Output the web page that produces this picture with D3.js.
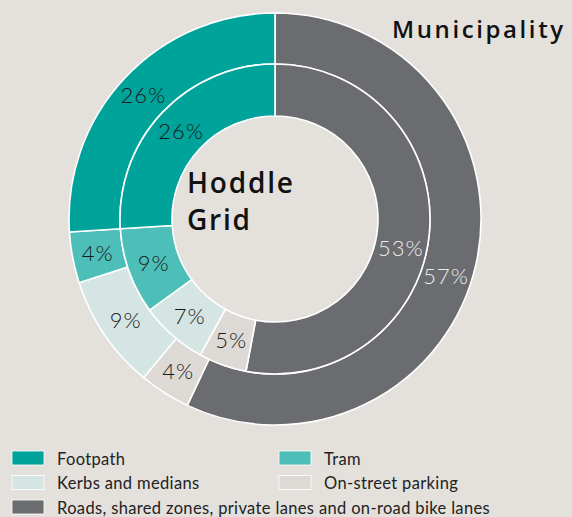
<!DOCTYPE html>
<html><head><meta charset="utf-8">
<script src="https://cdn.jsdelivr.net/npm/d3@7"></script>
<style>
html,body{margin:0;padding:0;background:#e4e1dd;}
svg{display:block;}
</style></head>
<body>
<svg id="chart" width="572" height="517"></svg>
<script>
const categories = ["Roads, shared zones, private lanes and on-road bike lanes", "On-street parking", "Kerbs and medians", "Tram", "Footpath"];
const municipalityValues = [57, 4, 9, 4, 26];
const hoddleValues = [53, 5, 7, 9, 26];
const colors = ["#6b6c70", "#ddd9d4", "#d4e5e3", "#4dbfb8", "#00a39a"];
const labelColors = ["#ececec", "#1a1a1a", "#1a1a1a", "#1a1a1a", "#1a1a1a"];
const legendOrder = ["Footpath", "Tram", "Kerbs and medians", "On-street parking", "Roads, shared zones, private lanes and on-road bike lanes"];

const svg = d3.select("#chart");
const cx = 275, cy = 219;
const g = svg.append("g").attr("transform", `translate(${cx},${cy})`);

const pie = d3.pie().sort(null).value(d => d);
const color = d3.scaleOrdinal().domain(categories).range(colors);
const lblColor = d3.scaleOrdinal().domain(categories).range(labelColors);

function ring(values, r0, r1, shift) {
  const arcs = pie(values).map((a, i) => Object.assign(a, {cat: categories[i]}));
  const arc = d3.arc().innerRadius(r0).outerRadius(r1);
  g.append("g").selectAll("path").data(arcs).join("path")
    .attr("d", arc)
    .attr("fill", d => color(d.cat))
    .attr("stroke", "#ffffff")
    .attr("stroke-width", 1.6);
  const rl = (r0 + r1) / 2;
  g.append("g").selectAll("text").data(arcs).join("text")
    .attr("transform", d => {
      let a = (d.startAngle + d.endAngle) / 2;
      if (d.index === 0) a += shift;
      return `translate(${rl * Math.sin(a)},${-rl * Math.cos(a)})`;
    })
    .attr("text-anchor", "middle")
    .attr("dy", "0.36em")
    .attr("font-family", "Lato, 'Open Sans', sans-serif")
    .attr("font-weight", 300)
    .attr("font-size", 22)
    .attr("letter-spacing", 1)
    .attr("fill", d => lblColor(d.cat))
    .text(d => d.data + "%");
}
ring(municipalityValues, 155, 206, 6 * Math.PI / 180);
ring(hoddleValues, 103, 155, 7.5 * Math.PI / 180);

// centre title
const title = svg.append("text")
  .attr("font-family", "'Open Sans', sans-serif")
  .attr("font-weight", 600)
  .attr("font-size", 28)
  .attr("letter-spacing", 1.8)
  .attr("fill", "#111");
title.append("tspan").attr("x", 187).attr("y", 193).text("Hoddle");
title.append("tspan").attr("x", 187).attr("y", 230).text("Grid");

svg.append("text")
  .attr("x", 392).attr("y", 38)
  .attr("font-family", "'Open Sans', sans-serif")
  .attr("font-weight", 600)
  .attr("font-size", 24)
  .attr("letter-spacing", 2.6)
  .attr("fill", "#111")
  .text("Municipality");

// legend
const legend = svg.append("g");
const items = legendOrder.map((c, i) => ({c, col: i < 4 ? i % 2 : 0, row: Math.floor(i / 2)}));
const lg = legend.selectAll("g").data(items).join("g")
  .attr("transform", d => `translate(${12 + d.col * 267},${451 + d.row * 24.5})`);
lg.append("rect").attr("width", 32).attr("height", 14)
  .attr("fill", d => color(d.c))
  .attr("stroke", "#ffffff").attr("stroke-width", 0.8);
lg.append("text").attr("x", 45).attr("y", 13.5)
  .attr("font-family", "Lato, 'Open Sans', sans-serif")
  .attr("font-size", 16.5)
  .attr("letter-spacing", 0.35)
  .attr("fill", "#222")
  .text(d => d.c);
</script>
</body></html>
